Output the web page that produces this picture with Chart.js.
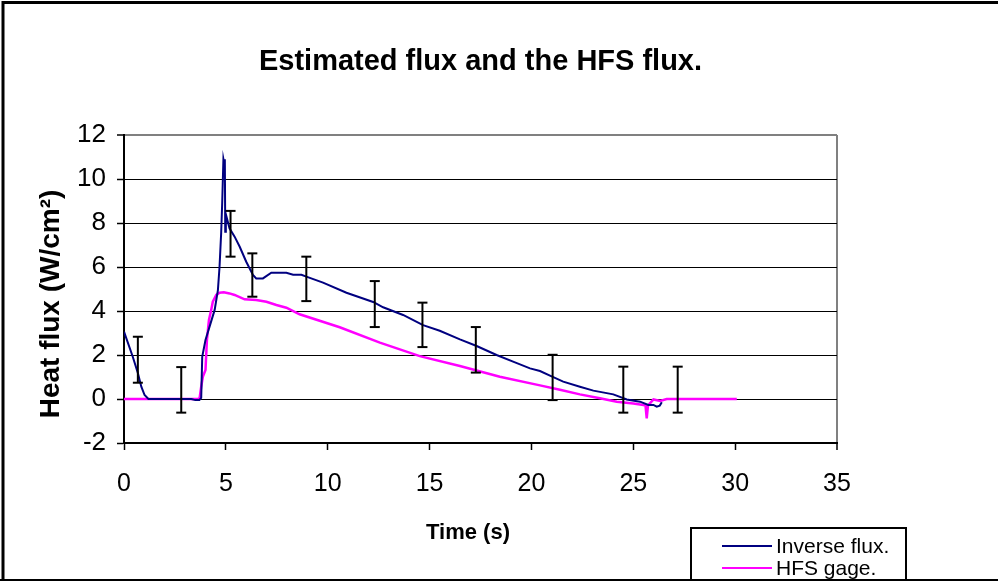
<!DOCTYPE html>
<html>
<head>
<meta charset="utf-8">
<title>Estimated flux and the HFS flux.</title>
<script src="https://cdn.jsdelivr.net/npm/chart.js@4.4.1/dist/chart.umd.min.js"></script>
<style>
  html, body { margin: 0; padding: 0; background: #fff; }
  #wrap { width: 998px; height: 581px; position: relative; }
</style>
</head>
<body>
<div id="wrap"><canvas id="c" width="998" height="581"></canvas></div>
<script>
// Inverse (estimated) heat flux, time in s, flux in W/cm²
const inverseTime = [0, 0.43, 0.68, 0.85, 1.01, 1.2, 3.3, 3.5, 3.7, 3.79, 3.84, 4.0, 4.2, 4.45, 4.61, 4.69, 4.77, 4.82, 4.88, 4.92, 4.95, 4.97, 5.0, 5.18, 5.43, 5.68, 6.0, 6.33, 6.49, 6.82, 7.23, 7.97, 8.3, 8.71, 8.95, 9.77, 10.92, 12.23, 12.72, 13.7, 14.68, 15.5, 16.49, 17.31, 18.29, 19.1, 19.93, 20.42, 20.91, 21.56, 22.38, 23.04, 24.02, 24.68, 25.33, 25.74, 25.99, 26.15, 26.3, 26.4];
const inverseFlux = [3.06, 1.92, 1.18, 0.56, 0.18, 0.0, 0.0, -0.05, -0.05, 0.05, 1.92, 2.68, 3.29, 4.05, 4.95, 6.01, 7.55, 8.9, 10.9, 10.7, 10.9, 7.6, 8.4, 7.76, 7.38, 6.92, 6.24, 5.64, 5.48, 5.48, 5.74, 5.74, 5.65, 5.65, 5.56, 5.29, 4.83, 4.41, 4.17, 3.82, 3.36, 3.1, 2.71, 2.41, 2.0, 1.7, 1.39, 1.27, 1.06, 0.79, 0.56, 0.38, 0.21, -0.02, -0.12, -0.27, -0.27, -0.35, -0.3, -0.15];

// Heat flux sensor (HFS gage) reading
const gageTime = [0, 3.63, 3.71, 3.79, 3.87, 4.0, 4.07, 4.17, 4.28, 4.36, 4.53, 4.69, 4.9, 5.18, 5.43, 5.92, 6.49, 6.99, 7.48, 7.97, 8.62, 10.59, 12.56, 14.52, 16.49, 18.45, 20.42, 21.4, 22.38, 23.36, 24.19, 25.0, 25.5, 25.6, 25.66, 25.72, 25.99, 26.32, 26.64, 30.08];
const gageFlux = [0, 0, 0.03, 0.56, 1.01, 1.32, 2.68, 3.59, 4.05, 4.42, 4.73, 4.83, 4.85, 4.8, 4.73, 4.53, 4.5, 4.42, 4.27, 4.15, 3.85, 3.26, 2.56, 1.95, 1.5, 1.01, 0.62, 0.42, 0.21, 0.03, -0.12, -0.2, -0.27, -0.3, -0.88, -0.3, -0.02, -0.09, 0, 0];

// Uncertainty bars on the inverse estimate
const errTime = [0.68, 2.81, 5.23, 6.3, 8.95, 12.31, 14.65, 17.27, 21.04, 24.51, 27.18];
const errLow  = [0.74, -0.62, 6.47, 4.65, 4.45, 3.27, 2.36, 1.2, -0.05, -0.62, -0.62];
const errHigh = [2.83, 1.45, 8.55, 6.62, 6.47, 5.36, 4.38, 3.27, 2.01, 1.47, 1.47];

const seriesNames = ['Inverse flux.', 'HFS gage.'];
const xTicks = [0, 5, 10, 15, 20, 25, 30, 35];
const yTicks = [-2, 0, 2, 4, 6, 8, 10, 12];

const FONT = 'Liberation Sans, Arial, Helvetica, sans-serif';
const NAVY = '#000080';
const MAGENTA = '#FF00FF';

const toPoints = (xs, ys) => xs.map((x, i) => ({ x, y: ys[i] }));

// each bar is a short vertical segment with caps, separated by gaps
const errPoints = [];
errTime.forEach((t, i) => {
  errPoints.push({ x: t, y: errLow[i] });
  errPoints.push({ x: t, y: errHigh[i] });
  errPoints.push({ x: t, y: null });
});

const framePlugin = {
  id: 'frame',
  beforeDraw(chart) {
    const c = chart.ctx;
    c.save();
    c.fillStyle = '#fff';
    c.fillRect(0, 0, chart.width, chart.height);
    c.restore();
  },
  afterDraw(chart) {
    const c = chart.ctx;
    const area = chart.chartArea;
    c.save();
    c.fillStyle = '#000';
    c.textAlign = 'center';
    c.textBaseline = 'middle';

    // chart title
    c.font = 'bold 29px ' + FONT;
    c.fillText('Estimated flux and the HFS flux.', (area.left + area.right) / 2, 62);

    // axis titles
    c.font = 'bold 22px ' + FONT;
    c.fillText('Time (s)', 468, 533);
    c.save();
    c.translate(51, 304);
    c.rotate(-Math.PI / 2);
    c.font = 'bold 28px ' + FONT;
    c.fillText('Heat flux (W/cm²)', 0, 0);
    c.restore();

    // outer frame
    c.strokeStyle = '#000';
    c.lineWidth = 3;
    c.beginPath();
    c.moveTo(3, 581);
    c.lineTo(3, 2.5);
    c.lineTo(998, 2.5);
    c.stroke();
    c.lineWidth = 2;
    c.beginPath();
    c.moveTo(0, 580);
    c.lineTo(998, 580);
    c.stroke();

    // legend box
    const lx = 691, ly = 528, lw = 215, lh = 52;
    c.fillStyle = '#fff';
    c.fillRect(lx, ly, lw, lh);
    c.lineWidth = 2;
    c.strokeStyle = '#000';
    c.strokeRect(lx, ly, lw, lh);
    const items = chart.data.datasets.filter(d => seriesNames.includes(d.label));
    items.forEach((d, i) => {
      const y = 546 + i * 22;
      c.strokeStyle = d.borderColor;
      c.lineWidth = 2;
      c.beginPath();
      c.moveTo(722, y);
      c.lineTo(772, y);
      c.stroke();
      c.fillStyle = '#000';
      c.font = '21px ' + FONT;
      c.textAlign = 'left';
      c.textBaseline = 'middle';
      c.fillText(d.label, 776, y + 1);
    });
    c.restore();
  }
};

new Chart(document.getElementById('c').getContext('2d'), {
  type: 'scatter',
  data: {
    datasets: [
      {
        label: 'error',
        data: errPoints,
        showLine: true,
        spanGaps: false,
        borderColor: '#000',
        borderWidth: 2,
        pointStyle: 'line',
        pointRadius: 5,
        pointBorderWidth: 2,
        pointBorderColor: '#000',
        order: 0
      },
      {
        label: seriesNames[0],
        data: toPoints(inverseTime, inverseFlux),
        showLine: true,
        borderColor: NAVY,
        borderWidth: 2,
        pointRadius: 0,
        tension: 0,
        order: 1
      },
      {
        label: seriesNames[1],
        data: toPoints(gageTime, gageFlux),
        showLine: true,
        borderColor: MAGENTA,
        borderWidth: 2.5,
        pointRadius: 0,
        tension: 0,
        order: 2
      }
    ]
  },
  options: {
    responsive: false,
    animation: false,
    events: [],
    layout: { padding: { left: 0, top: 135, right: 161, bottom: 0 } },
    plugins: {
      legend: { display: false },
      tooltip: { enabled: false },
      title: { display: false }
    },
    scales: {
      x: {
        type: 'linear',
        position: 'bottom',
        min: xTicks[0],
        max: xTicks[xTicks.length - 1],
        afterBuildTicks: s => { s.ticks = xTicks.map(v => ({ value: v })); },
        afterFit: s => { s.height = 138; },
        ticks: { color: '#000', font: { family: FONT, size: 25 }, padding: 19, maxRotation: 0 },
        grid: {
          color: ctx => (ctx.tick && ctx.tick.value === 35 ? '#808080' : 'rgba(0,0,0,0)'),
          lineWidth: ctx => (ctx.tick && ctx.tick.value === 35 ? 2 : 1),
          tickColor: '#000',
          tickLength: 7,
          tickWidth: 1.5
        },
        border: { color: '#000', width: 2 },
        title: { display: false }
      },
      y: {
        min: yTicks[0],
        max: yTicks[yTicks.length - 1],
        afterBuildTicks: s => { s.ticks = yTicks.map(v => ({ value: v })); },
        afterFit: s => { s.width = 124; },
        ticks: { color: '#000', font: { family: FONT, size: 26 }, padding: 11 },
        grid: {
          color: ctx => (ctx.tick && ctx.tick.value === 12 ? '#808080' : '#000'),
          lineWidth: ctx => (ctx.tick && ctx.tick.value === 12 ? 2 : 1),
          tickColor: '#000',
          tickLength: 7,
          tickWidth: 1.5
        },
        border: { color: '#000', width: 2 },
        title: { display: false }
      }
    }
  },
  plugins: [framePlugin]
});
</script>
</body>
</html>
